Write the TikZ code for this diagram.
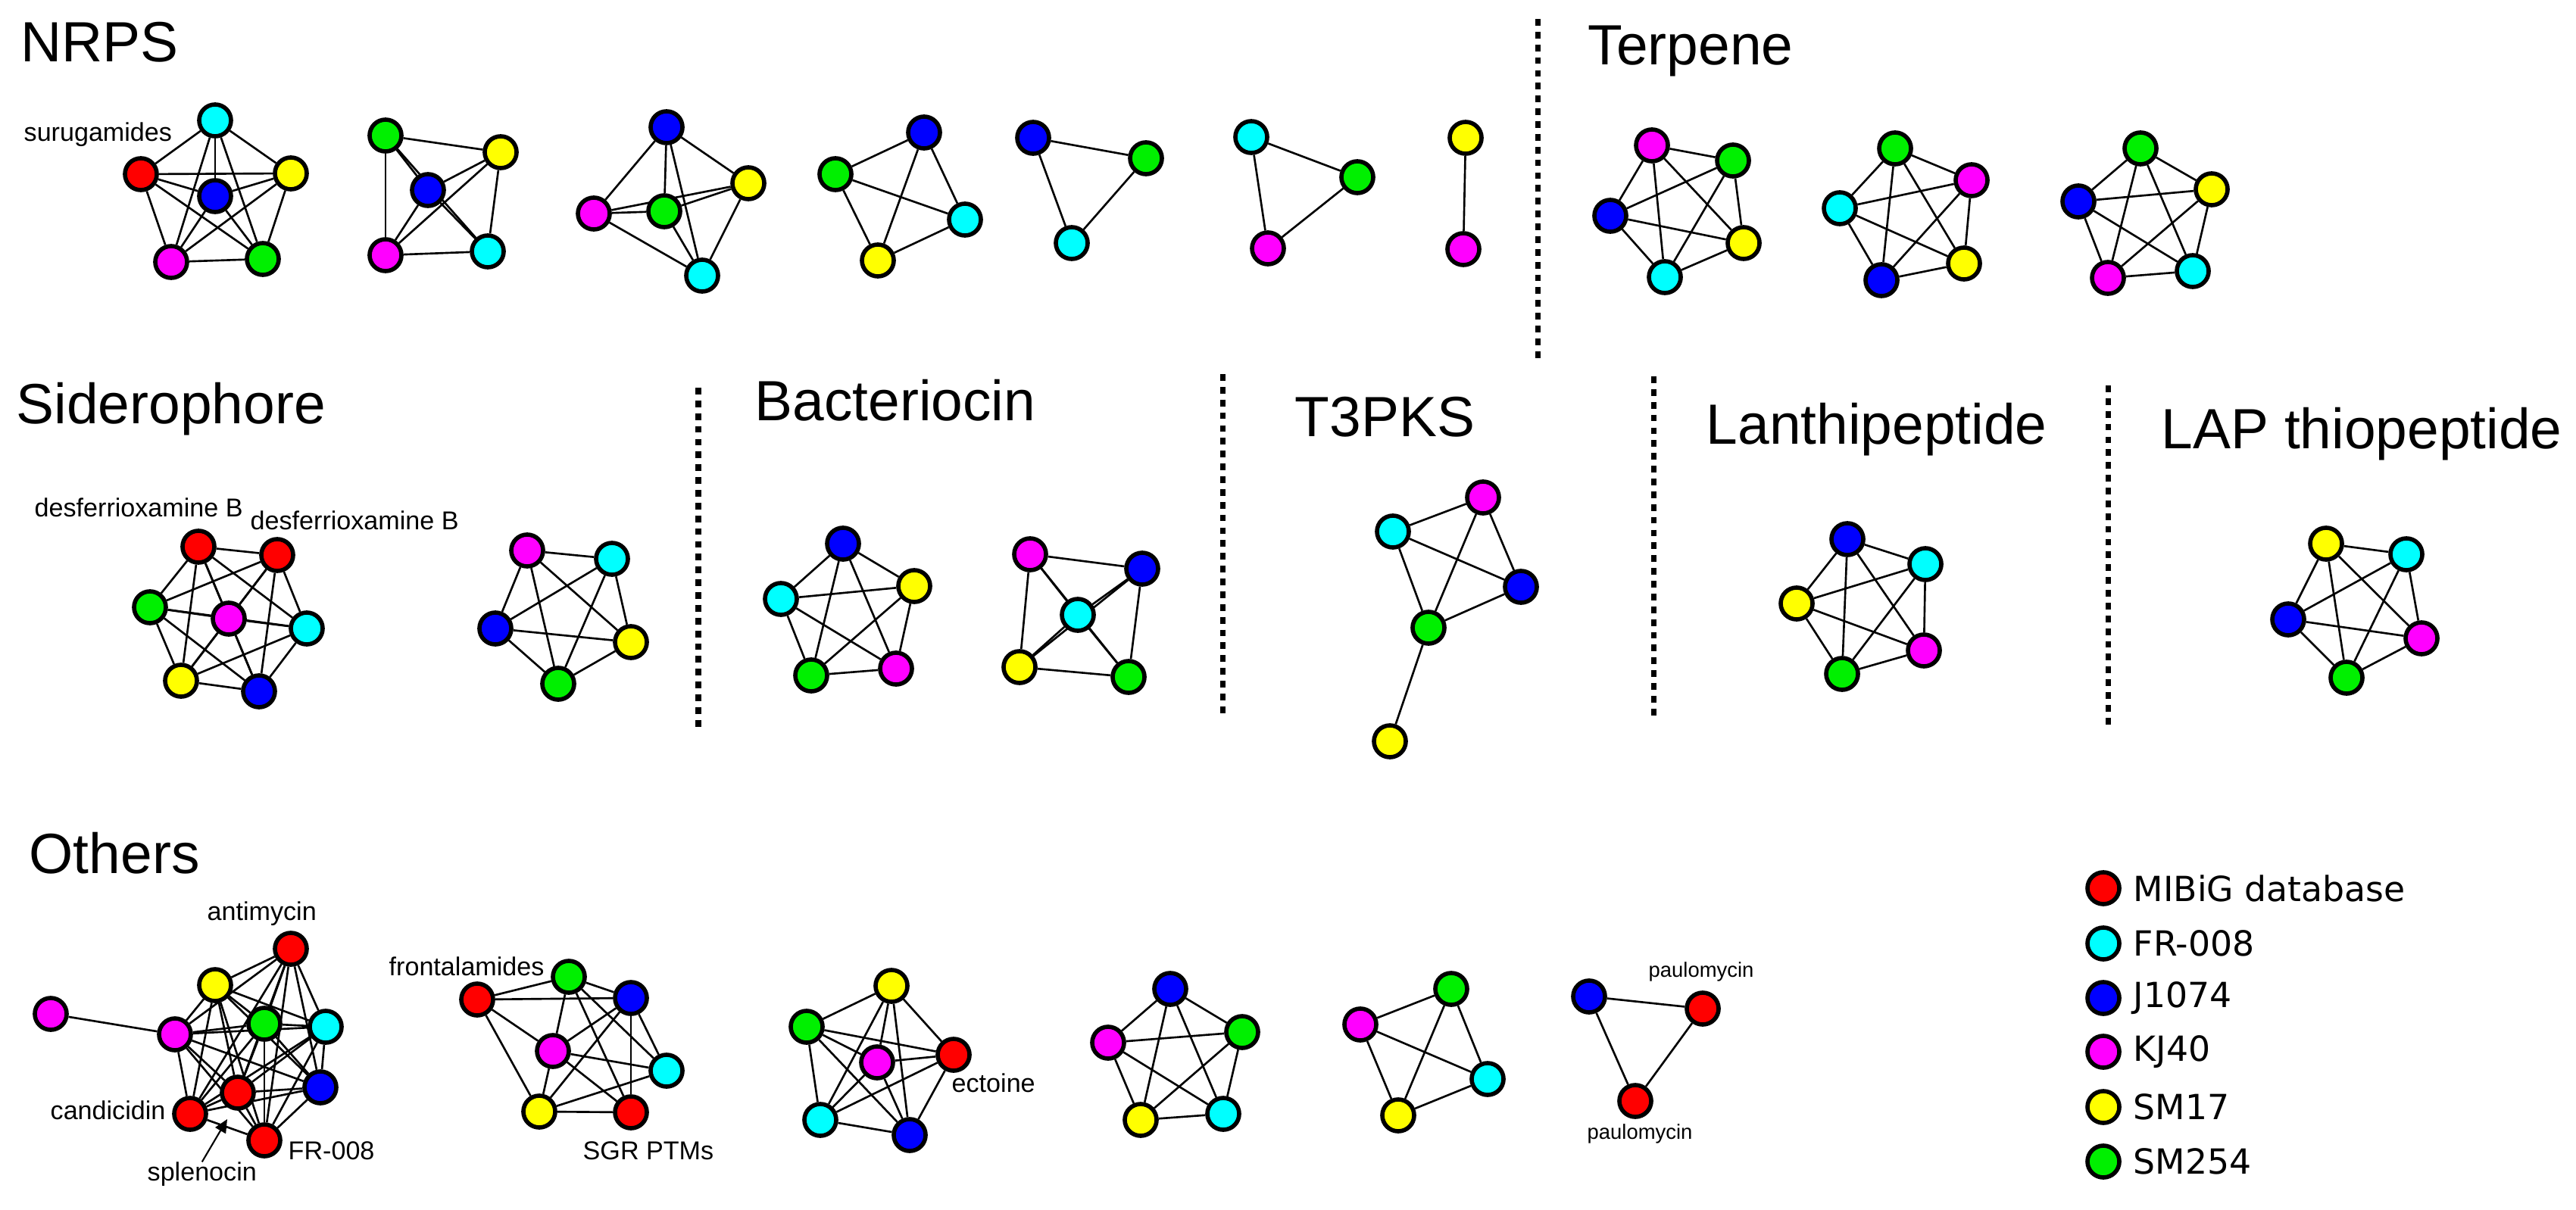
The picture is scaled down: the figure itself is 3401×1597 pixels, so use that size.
\documentclass[tikz,border=0pt]{standalone}
\usepackage{fontspec}
\setmainfont{Liberation Sans}
\newfontfamily\legendfont{DejaVu Sans}
\usepackage{tikz}
\usetikzlibrary{arrows.meta,backgrounds}

\definecolor{mbr}{RGB}{255,0,0}
\definecolor{frc}{RGB}{0,255,255}
\definecolor{jlb}{RGB}{0,0,255}
\definecolor{kjm}{RGB}{255,0,255}
\definecolor{sey}{RGB}{255,255,0}
\definecolor{seg}{RGB}{0,240,0}

% every pair of nodes #11 ... #1#2
\newcommand{\fullmesh}[2]{%
  \foreach \i in {1,...,#2}{\foreach \j in {1,...,#2}{%
    \ifnum\i<\j \draw[link] (#1\i) -- (#1\j);\fi}}}

\begin{document}
\begin{tikzpicture}[x=0.01cm, y=-0.01cm,
  nd/.style={circle, draw=black, line width=1.6pt, minimum size=0.42cm, inner sep=0pt},
  link/.style={line width=0.75pt},
  sep/.style={line width=2pt, dash pattern=on 2.5pt off 2.3pt},
  cat/.style={font=\fontsize{21.3}{25}\selectfont, anchor=base west, inner sep=0pt},
  tag/.style={font=\fontsize{9.7}{11}\selectfont, anchor=west, inner sep=0pt},
  smalltag/.style={font=\fontsize{7.8}{9}\selectfont, anchor=west, inner sep=0pt},
  key/.style={font=\legendfont\fontsize{13}{15}\selectfont, anchor=west, inner sep=0pt}]
  \useasboundingbox (0,0) rectangle (3401,1597);

  % Class titles
  \node[cat] (tnrps) at (27,82) {NRPS};
  \node[cat] (tterp) at (2096,86) {Terpene};
  \node[cat] (tsid) at (21,559) {Siderophore};
  \node[cat] (tbac) at (996,555) {Bacteriocin};
  \node[cat] (tpks) at (1709,576) {T3PKS};
  \node[cat] (tlan) at (2252,586) {Lanthipeptide};
  \node[cat] (tlap) at (2853,592) {LAP thiopeptide};
  \node[cat] (toth) at (38,1153) {Others};

  % Separators
  \draw[sep] (2030,25) -- (2030,477);
  \draw[sep] (922,512) -- (922,965);
  \draw[sep] (1614,494) -- (1614,946);
  \draw[sep] (2183,497) -- (2183,948);
  \draw[sep] (2783,509) -- (2783,959);

  % NRPS networks
  \foreach \n/\c/\x/\y in {na1/frc/284/159, na2/mbr/186/230, na3/sey/384/229,
      na4/jlb/284/259, na5/kjm/226/346, na6/seg/347/342,
      nb1/seg/509/179, nb2/sey/661/201, nb3/jlb/565/251, nb4/kjm/509/337, nb5/frc/644/332,
      nc1/jlb/880/168, nc2/sey/988/242, nc3/kjm/784/282, nc4/seg/877/279, nc5/frc/927/364,
      nd1/seg/1103/230, nd2/jlb/1220/175, nd3/frc/1274/290, nd4/sey/1159/344,
      ne1/jlb/1364/182, ne2/seg/1513/209, ne3/frc/1415/321,
      nf1/frc/1652/181, nf2/seg/1792/234, nf3/kjm/1674/328,
      ng1/sey/1935/182, ng2/kjm/1932/329}
    \node[nd, fill=\c] (\n) at (\x,\y) {};

  % Terpene networks
  \foreach \n/\c/\x/\y in {ta1/kjm/2181/192, ta2/seg/2288/212, ta3/jlb/2126/285, ta4/sey/2302/321, ta5/frc/2198/366,
      tb1/seg/2502/196, tb2/kjm/2603/238, tb3/frc/2429/275, tb4/sey/2593/348, tb5/jlb/2484/370,
      tc1/seg/2826/196, tc2/sey/2920/250, tc3/jlb/2744/266, tc4/frc/2895/358, tc5/kjm/2783/367}
    \node[nd, fill=\c] (\n) at (\x,\y) {};

  % Siderophore, bacteriocin, T3PKS, lanthipeptide, LAP networks
  \foreach \n/\c/\x/\y in {sa1/mbr/262/722, sa2/mbr/366/733, sa3/seg/198/802, sa4/kjm/302/817,
      sa5/frc/405/830, sa6/sey/239/899, sa7/jlb/342/913,
      sb1/kjm/696/727, sb2/frc/808/738, sb3/jlb/654/830, sb4/sey/833/848, sb5/seg/737/903,
      ba1/jlb/1113/718, ba2/frc/1031/791, ba3/sey/1207/774, ba4/seg/1071/892, ba5/kjm/1183/883,
      bb1/kjm/1360/732, bb2/jlb/1508/751, bb3/frc/1423/812, bb4/sey/1346/881, bb5/seg/1490/894,
      pk1/kjm/1958/657, pk2/frc/1839/702, pk3/jlb/2008/775, pk4/seg/1886/829, pk5/sey/1835/979,
      la1/jlb/2439/712, la2/frc/2542/745, la3/sey/2372/797, la4/kjm/2540/859, la5/seg/2432/890,
      lp1/sey/3071/718, lp2/frc/3177/732, lp3/jlb/3021/818, lp4/kjm/3197/843, lp5/seg/3098/895}
    \node[nd, fill=\c] (\n) at (\x,\y) {};

  % Other networks
  \foreach \n/\c/\x/\y in {oa1/kjm/231/1366, oa2/sey/284/1301, oa3/mbr/384/1253, oa4/seg/349/1352,
      oa5/frc/430/1356, oa6/jlb/423/1436, oa7/mbr/314/1443, oa8/mbr/251/1471, oa9/mbr/349/1506,
      oa10/kjm/67/1339,
      ob1/mbr/630/1320, ob2/seg/751/1290, ob3/jlb/833/1318, ob4/kjm/730/1388,
      ob5/frc/880/1414, ob6/sey/712/1468, ob7/mbr/833/1469,
      oc1/sey/1177/1302, oc2/seg/1065/1356, oc3/kjm/1158/1403, oc4/mbr/1259/1393,
      oc5/frc/1083/1479, oc6/jlb/1201/1499,
      od1/jlb/1545/1306, od2/kjm/1463/1377, od3/seg/1640/1363, od4/sey/1506/1479, od5/frc/1615/1471,
      oe1/seg/1916/1306, oe2/kjm/1796/1353, oe3/frc/1964/1425, oe4/sey/1846/1473,
      of1/jlb/2098/1316, of2/mbr/2248/1332, of3/mbr/2159/1454}
    \node[nd, fill=\c] (\n) at (\x,\y) {};

  % Edges
  \begin{scope}[on background layer]
    \fullmesh{na}{6} \fullmesh{nb}{5} \fullmesh{nc}{5} \fullmesh{nd}{4}
    \fullmesh{ne}{3} \fullmesh{nf}{3} \fullmesh{ng}{2}
    \fullmesh{ta}{5} \fullmesh{tb}{5} \fullmesh{tc}{5}
    \fullmesh{sa}{7} \fullmesh{sb}{5} \fullmesh{ba}{5} \fullmesh{bb}{5}
    \fullmesh{pk}{4} \draw[link] (pk4) -- (pk5);
    \fullmesh{la}{5} \fullmesh{lp}{5}
    \fullmesh{oa}{9} \draw[link] (oa10) -- (oa1);
    \foreach \u/\v in {1/2,1/3,1/4,1/6,2/3,2/4,2/5,2/7,3/4,3/5,3/6,3/7,
        4/5,4/6,4/7,5/6,6/7}
      \draw[link] (ob\u) -- (ob\v);
    \fullmesh{oc}{6} \fullmesh{od}{5} \fullmesh{oe}{4} \fullmesh{of}{3}
  \end{scope}

  % Labels
  \node[tag] (lsur) at (31,178) {surugamides};
  \node[tag] (ldfa) at (45,670) {desferrioxamine B};
  \node[tag] (ldfb) at (330,687) {desferrioxamine B};
  \node[tag] (lant) at (273,1207) {antimycin};
  \node[tag] (lcan) at (66,1466) {candicidin};
  \node[tag] (lfr) at (380,1520) {FR-008};
  \node[tag] (lspl) at (194,1551) {splenocin};
  \node[tag] (lfro) at (513,1276) {frontalamides};
  \node[tag] (lsgr) at (769,1520) {SGR PTMs};
  \node[tag] (lect) at (1256,1430) {ectoine};
  \node[smalltag] (lpaa) at (2176,1283) {paulomycin};
  \node[smalltag] (lpab) at (2095,1497) {paulomycin};
  \coordinate (spltip) at (300,1478);
  \draw[line width=0.6pt, -{Triangle[length=5pt, width=4.5pt]}] (lspl.north) -- (spltip);

  % Legend
  \foreach \k/\c/\y/\t in {1/mbr/1173/MIBiG database, 2/frc/1246/FR-008, 3/jlb/1318/J1074,
      4/kjm/1389/KJ40, 5/sey/1462/SM17, 6/seg/1534/SM254} {
    \node[nd, fill=\c] (lg\k) at (2777,\y) {};
    \node[key] (lt\k) at (2816,\y) {\t};
  }
\end{tikzpicture}
\end{document}
